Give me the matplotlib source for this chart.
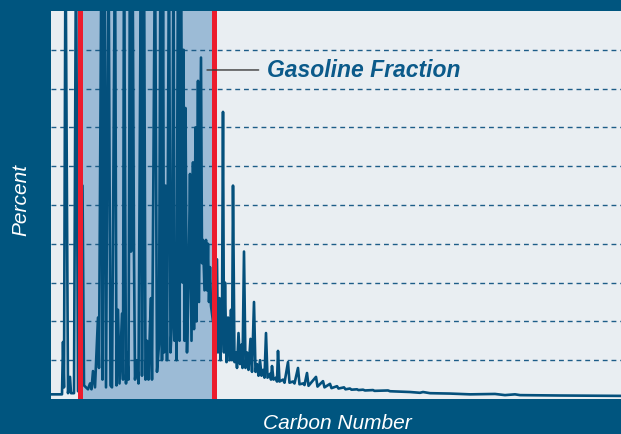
import matplotlib
matplotlib.use("Agg")
import matplotlib.pyplot as plt

# chromatogram trace: retention (min) vs percent
# alternating valley / peak points, tall peaks run off the top (12)
rt = [0.0, 1.1, 1.2, 1.3, 1.45, 1.7, 1.9, 2.0, 2.3, 2.5, 2.7, 3.15, 3.3, 3.7, 3.9,
      4.05, 4.2, 4.4, 4.7, 4.8, 5.05, 5.15, 5.35, 5.5, 5.75, 5.95, 6.1, 6.4, 6.55,
      6.7, 6.85, 7.1, 7.2, 7.3, 7.5, 7.6, 7.75, 7.9, 8.0, 8.15, 8.3, 8.4, 8.6, 8.75,
      9.0, 9.1, 9.3, 9.45, 9.6, 9.75, 9.9, 10.0, 10.1, 10.4, 10.6, 10.8, 10.95,
      11.1, 11.2, 11.3, 11.45, 11.6, 11.8, 11.95, 12.1, 12.25, 12.35, 12.45, 12.55,
      12.7, 12.85, 13.0, 13.15, 13.25, 13.35, 13.45, 13.6, 13.75, 13.9, 14.05,
      14.2, 14.3, 14.45, 14.55, 14.7, 14.8, 15.0, 15.1, 15.2, 15.35, 15.5, 15.6,
      15.7, 15.8, 15.9, 16.0, 16.2, 16.6, 16.7, 16.85, 16.95, 17.1, 17.2, 17.3,
      17.4, 17.55, 17.7, 17.85, 18.0, 18.1, 18.2, 18.35, 18.5, 18.6, 18.75, 18.9,
      19.05, 19.15, 19.3, 19.45, 19.6, 19.75, 19.95, 20.1, 20.3, 20.45, 20.6,
      20.75, 20.9, 21.05, 21.2, 21.35, 21.5, 21.65, 21.9, 22.0, 22.1, 22.25, 22.5,
      22.6, 22.7, 22.85, 23.2, 23.35, 23.7, 23.85, 24.2, 24.35, 24.7, 24.85, 25.2,
      25.35, 25.6, 25.75, 26.5, 26.65, 27.2, 27.35, 27.9, 28.05, 28.6, 28.75, 29.3,
      29.45, 29.9, 30.05, 30.6, 30.75, 31.2, 31.4, 32.2, 32.35, 33.7, 33.9, 35.9,
      36.9, 37.2, 37.9, 39.9, 41.9, 44.4, 45.4, 46.4, 46.9, 50.9, 57.0]
percent = [0.12, 0.12, 1.47, 0.3, 12, 0.15, 0.57, 0.15, 0.15, 12, 0.2, 5.5, 0.35, 0.25, 0.4,
           0.25, 0.72, 0.3, 2.1, 0.8, 12, 0.5, 12, 0.3, 12, 0.35, 0.3, 12, 0.35,
           2.3, 0.4, 2.2, 0.5, 12, 0.4, 1.2, 0.5, 12, 3.8, 12, 3.7, 0.5, 1.0, 0.4,
           12, 0.6, 12, 0.5, 1.5, 0.5, 1.9, 2.6, 0.5, 12, 0.7, 1.4, 12,
           1.0, 12, 1.2, 5.5, 1.0, 12, 1.2, 2.0, 12, 1.5, 4.0, 1.0,
           12, 1.5, 12, 3.0, 9.0, 1.5, 7.5, 1.2, 3.0, 5.8, 1.5,
           6.1, 1.8, 7.0, 2.0, 8.2, 2.5, 8.8, 3.5, 4.1, 2.8, 4.1, 2.8,
           4.0, 2.5, 3.4, 2.4, 2.0, 3.6, 1.2, 2.6, 1.0, 2.0, 7.4, 1.2,
           3.0, 0.95, 2.1, 1.0, 2.3, 1.0, 5.5, 0.95, 1.2, 0.8, 1.7, 0.9,
           1.4, 0.8, 3.8, 0.8, 1.2, 0.75, 1.55, 0.7, 2.5, 0.7, 0.9,
           0.6, 1.0, 0.6, 0.75, 0.55, 1.7, 0.55, 0.65, 0.5, 0.85, 0.5, 0.55,
           0.45, 1.24, 0.45, 0.5, 0.42, 0.95, 0.42, 0.45, 0.4, 0.8, 0.38, 0.4,
           0.36, 0.67, 0.34, 0.57, 0.32, 0.46, 0.3, 0.39, 0.28, 0.33, 0.27, 0.3,
           0.25, 0.27, 0.24, 0.25, 0.23, 0.24, 0.22, 0.23, 0.21, 0.22, 0.2, 0.18,
           0.16, 0.18, 0.15, 0.14, 0.12, 0.13, 0.1, 0.12, 0.1, 0.09, 0.08]

# gasoline cut (retention window)
gas_start = 2.85
gas_end = 16.25

navy = "#00557f"
trace_col = "#04507c"

fig = plt.figure(figsize=(6.21, 4.35), dpi=100, facecolor=navy)
ax = fig.add_axes([51 / 621, 35 / 435, 570 / 621, 388 / 435])
ax.set_facecolor("#e9eef2")

ax.axvspan(gas_start, gas_end, color="#9cbbd6", zorder=0.5, lw=0)
for yv in range(1, 10):
    ax.axhline(yv, color="#1d5d88", lw=1.0, dashes=(3.5, 2.8), zorder=1)

ax.plot(rt, percent, color=trace_col, lw=1.9, zorder=2, solid_joinstyle="round")

ax.axvline(gas_start, color="#ec1c2d", lw=3.6, zorder=3)
ax.axvline(gas_end, color="#ec1c2d", lw=3.6, zorder=3)

ax.annotate("Gasoline Fraction", xy=(15.6, 8.48), xytext=(21.6, 8.48),
            ha="left", va="center", fontsize=16.5, fontweight="bold",
            fontstyle="italic", family="Liberation Sans", color="#0b5a8a",
            arrowprops=dict(arrowstyle="-", color="#3a3a3a", lw=1.0,
                            shrinkA=4, shrinkB=0), zorder=4)

ax.set_xlim(0, 57)
ax.set_ylim(0, 10)
ax.set_xticks([])
ax.set_yticks([])
for s in ax.spines.values():
    s.set_visible(False)

fig.text(337 / 621, 1 - 424 / 435, "Carbon Number", ha="center", va="center",
         fontsize=15, fontstyle="italic", family="Liberation Sans", color="white")
fig.text(20.5 / 621, 1 - 200 / 435, "Percent", ha="center", va="center", rotation=90,
         fontsize=15, fontstyle="italic", family="Liberation Sans", color="white")

fig.savefig("out.png", dpi=100, facecolor=navy)
